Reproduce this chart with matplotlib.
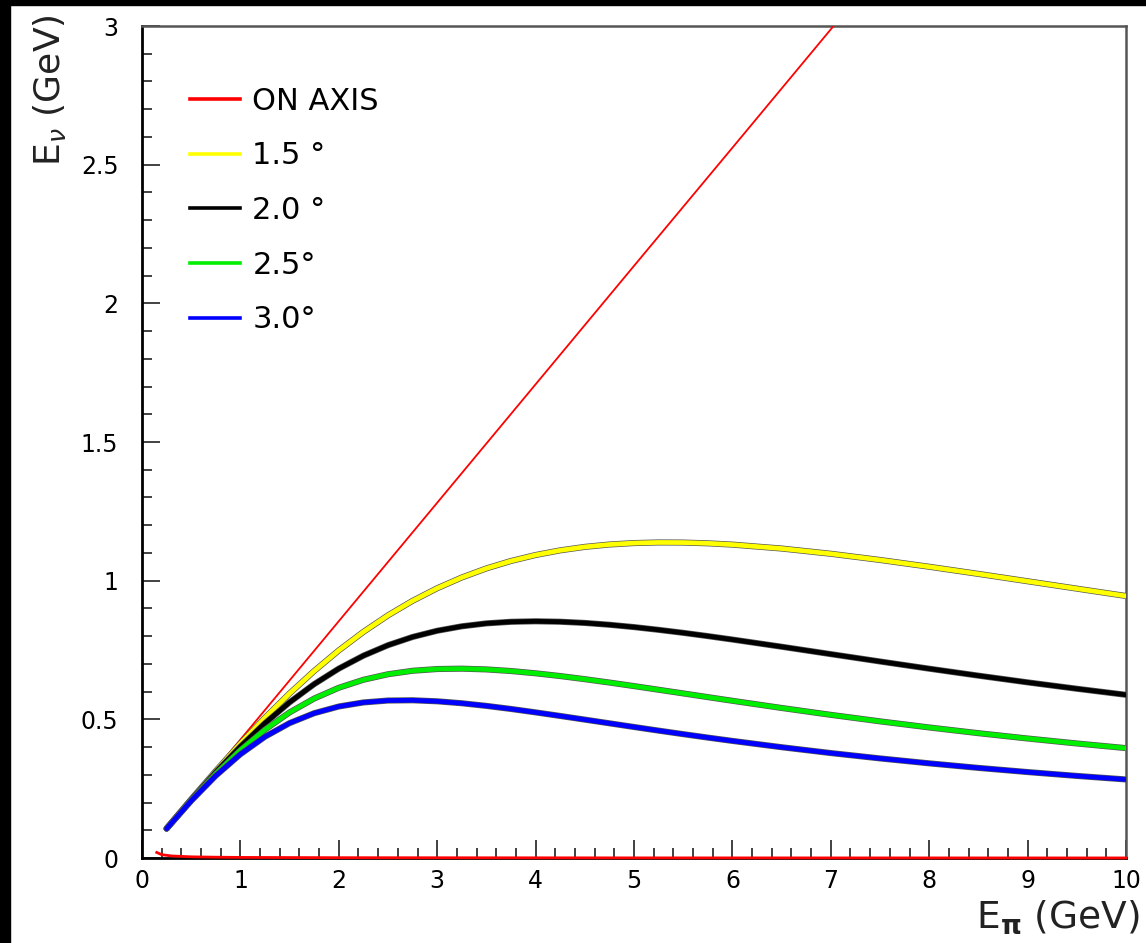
import matplotlib
matplotlib.use("Agg")
import matplotlib.pyplot as plt
import matplotlib.patheffects as pe
from matplotlib.patches import Rectangle
from matplotlib.ticker import MultipleLocator

plt.rcParams["font.family"] = ["DejaVu Sans"]

# pion energy (GeV) at which the off-axis curves were read
e_pi = [0.25, 0.5, 0.75, 1.0, 1.25, 1.5, 1.75, 2.0, 2.25, 2.5, 2.75, 3.0,
        3.25, 3.5, 3.75, 4.0, 4.25, 4.5, 4.75, 5.0, 5.25, 5.5, 5.75, 6.0,
        6.5, 7.0, 7.5, 8.0, 8.5, 9.0, 9.5, 10.0]

# neutrino energy (GeV) for each off-axis angle
nu_15 = [0.1065, 0.2116, 0.3140, 0.4124, 0.5058, 0.5934, 0.6744, 0.7485, 0.8153,
         0.8749, 0.9273, 0.9727, 1.0115, 1.0442, 1.0710, 1.0925, 1.1093, 1.1218,
         1.1304, 1.1356, 1.1378, 1.1374, 1.1347, 1.1300,
         1.1159, 1.0970, 1.0747, 1.0502, 1.0244, 0.9979, 0.9713, 0.9448]
nu_20 = [0.1063, 0.2102, 0.3093, 0.4018, 0.4861, 0.5614, 0.6270, 0.6829, 0.7295,
         0.7673, 0.7970, 0.8194, 0.8354, 0.8460, 0.8517, 0.8535, 0.8519, 0.8476,
         0.8410, 0.8326, 0.8227, 0.8119, 0.8001, 0.7877,
         0.7618, 0.7351, 0.7086, 0.6826, 0.6575, 0.6333, 0.6103, 0.5884]
nu_25 = [0.1061, 0.2084, 0.3035, 0.3889, 0.4629, 0.5250, 0.5750, 0.6138, 0.6426,
         0.6626, 0.6751, 0.6814, 0.6827, 0.6800, 0.6742, 0.6660, 0.6561, 0.6448,
         0.6327, 0.6199, 0.6067, 0.5935, 0.5801, 0.5669,
         0.5410, 0.5162, 0.4928, 0.4707, 0.4501, 0.4309, 0.4130, 0.3962]
nu_30 = [0.1058, 0.2062, 0.2967, 0.3742, 0.4374, 0.4864, 0.5221, 0.5463, 0.5609,
         0.5678, 0.5687, 0.5650, 0.5580, 0.5485, 0.5374, 0.5251, 0.5122, 0.4990,
         0.4857, 0.4724, 0.4593, 0.4466, 0.4342, 0.4222,
         0.3995, 0.3784, 0.3591, 0.3413, 0.3249, 0.3099, 0.2960, 0.2832]

# on-axis branch (straight line) and the low backward branch
e_on = [0.25, 1.0, 2.0, 3.0, 4.0, 5.0, 6.0, 7.0, 7.2]
nu_on = [0.107, 0.427, 0.854, 1.281, 1.708, 2.135, 2.561, 2.988, 3.074]
e_back = [0.15, 0.2, 0.3, 0.5, 0.75, 1.0, 2.0, 5.0, 10.0]
nu_back = [0.020, 0.012, 0.0074, 0.0042, 0.0029, 0.0021, 0.0011, 0.0004, 0.0002]

labels = ["ON AXIS", "1.5 \u00b0", "2.0 \u00b0", "2.5\u00b0", "3.0\u00b0"]
colors = ["#ff0000", "#ffff00", "#000000", "#00ee00", "#0000ff"]

fig = plt.figure(figsize=(11.46, 9.43), dpi=100)
ax = fig.add_axes([142 / 1146, 1 - 858 / 943, (1126 - 142) / 1146, (858 - 26) / 943])

# black frame strips at the top and left edge of the picture
fig.patches.append(Rectangle((0, 1 - 5 / 943), 1, 5 / 943, transform=fig.transFigure,
                             color="black", zorder=-1))
fig.patches.append(Rectangle((0, 0), 10 / 1146, 1, transform=fig.transFigure,
                             color="black", zorder=-1))

outline = [pe.Stroke(linewidth=4.4, foreground="#555555"), pe.Normal()]
handles = []
h, = ax.plot(e_on, nu_on, color=colors[0], lw=1.3, label=labels[0], zorder=3)
handles.append(h)
ax.plot(e_back, nu_back, color=colors[0], lw=2.0, zorder=3, clip_on=False)
for ys, c, lab in zip([nu_15, nu_20, nu_25, nu_30], colors[1:], labels[1:]):
    h, = ax.plot(e_pi, ys, color=c, lw=3.4, label=lab, path_effects=outline,
                 solid_capstyle="round", zorder=4)
    handles.append(h)

ax.set_xlim(0, 10)
ax.set_ylim(0, 3)
ax.xaxis.set_major_locator(MultipleLocator(1))
ax.xaxis.set_minor_locator(MultipleLocator(0.2))
ax.yaxis.set_minor_locator(MultipleLocator(0.1))
ax.set_yticks([0, 0.5, 1, 1.5, 2, 2.5, 3])
ax.set_yticklabels(["0", "0.5", "1", "1.5", "2", "2.5", "3"])
ax.tick_params(which="both", direction="in", top=False, right=False, width=1.3,
               labelsize=17, color="#333333")
ax.tick_params(axis="y", which="major", length=13, pad=17)
ax.tick_params(axis="x", which="major", length=13, pad=8)
ax.tick_params(which="minor", length=7)
for s in ["left", "bottom"]:
    ax.spines[s].set_linewidth(2.0)
    ax.spines[s].set_color("black")
for s in ["top", "right"]:
    ax.spines[s].set_linewidth(1.8)
    ax.spines[s].set_color("#555555")

leg_handles = []
for h in handles:
    leg_handles.append(plt.Line2D([], [], color=h.get_color(), lw=2.6))
ax.legend(leg_handles, labels, loc="upper left", bbox_to_anchor=(0.0488, 0.927),
          frameon=False, fontsize=22, handlelength=1.64, handletextpad=0.4,
          labelspacing=0.84, borderpad=0, borderaxespad=0)

fig.text(1140 / 1146, 1 - 928 / 943, r"E$_{\mathbf{\pi}}$ (GeV)", fontsize=27,
         ha="right", va="baseline", color="#222222")
fig.text(50 / 1146, 1 - 90 / 943, r"E$_{\nu}$ (GeV)", fontsize=26, rotation=90,
         ha="center", va="center", color="#222222")

fig.savefig("out.png", dpi=100, facecolor="white")
